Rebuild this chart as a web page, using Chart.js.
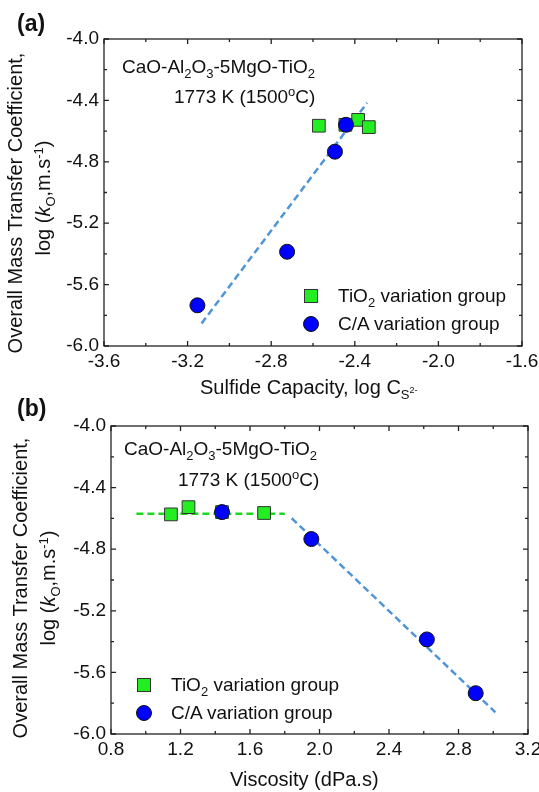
<!DOCTYPE html>
<html>
<head>
<meta charset="utf-8">
<script src="https://cdn.jsdelivr.net/npm/chart.js@4.4.0/dist/chart.umd.min.js"></script>
<style>
  body { margin: 0; background: #fff; }
  #wrap { position: relative; width: 539px; height: 792px; overflow: hidden; background: #fff;
          font-family: "Liberation Sans", Arial, sans-serif; color: #111; }
  canvas { position: absolute; left: 0; }
  .t { position: absolute; white-space: nowrap; font-size: 19px; line-height: 19px; }
  .ttl { font-size: 20px; line-height: 20px; }
  .sub { font-size: 13px; position: relative; top: 5px; }
  .sup { font-size: 13px; position: relative; top: -7px; }
  .tiny { font-size: 9px; position: relative; top: -6px; }
  .rot { transform: translate(-50%, -50%) rotate(-90deg); }
  .lab { font-weight: bold; font-size: 23px; line-height: 23px; }
  .sq { position: absolute; width: 12px; height: 12px; background: #22ee22; border: 1px solid #333; }
  .ci { position: absolute; width: 14px; height: 14px; border-radius: 50%; background: #0000ff; border: 1px solid #111; }
</style>
</head>
<body>
<div id="wrap">
  <canvas id="chartA" width="539" height="396" style="top:0"></canvas>
  <canvas id="chartB" width="539" height="396" style="top:396px"></canvas>

  <!-- panel (a) text -->
  <div class="t lab" style="left:17px;top:12px">(a)</div>
  <div class="t" style="left:122px;top:57px">CaO-Al<span class="sub">2</span>O<span class="sub">3</span>-5MgO-TiO<span class="sub">2</span></div>
  <div class="t" style="left:174px;top:87px">1773 K (1500<span class="sup">o</span>C)</div>
  <div class="sq" style="left:304px;top:289px"></div>
  <div class="ci" style="left:303px;top:316px"></div>
  <div class="t" style="left:338px;top:286px">TiO<span class="sub">2</span> variation group</div>
  <div class="t" style="left:338px;top:314px">C/A variation group</div>
  <div class="t ttl" style="left:200px;top:377px">Sulfide Capacity, log C<span class="sub">S<span class="tiny">2-</span></span></div>
  <div class="t ttl rot" style="left:15px;top:203px">Overall Mass Transfer Coefficient,</div>
  <div class="t ttl rot" style="left:44px;top:198px">log (<i>k</i><span class="sub">O</span>,m.s<span class="sup">-1</span>)</div>

  <!-- panel (b) text -->
  <div class="t lab" style="left:17px;top:397px">(b)</div>
  <div class="t" style="left:124px;top:439px">CaO-Al<span class="sub">2</span>O<span class="sub">3</span>-5MgO-TiO<span class="sub">2</span></div>
  <div class="t" style="left:178px;top:470px">1773 K (1500<span class="sup">o</span>C)</div>
  <div class="sq" style="left:137px;top:678px"></div>
  <div class="ci" style="left:136px;top:705px"></div>
  <div class="t" style="left:171px;top:675px">TiO<span class="sub">2</span> variation group</div>
  <div class="t" style="left:171px;top:703px">C/A variation group</div>
  <div class="t ttl" style="left:230px;top:769px">Viscosity (dPa.s)</div>
  <div class="t ttl rot" style="left:20px;top:588px">Overall Mass Transfer Coefficient,</div>
  <div class="t ttl rot" style="left:49px;top:588px">log (<i>k</i><span class="sub">O</span>,m.s<span class="sup">-1</span>)</div>
</div>

<script>
// ── data ─────────────────────────────────────────────────────────
// log kO for the TiO2 group (last point is the base slag, also in C/A group)
const tio2LogK = [-4.565, -4.527, -4.574, -4.559];
const tio2LogCs = [-2.572, -2.384, -2.333, -2.445];
const tio2Visc = [1.681, 1.246, 1.145, 1.439];

const caLogK = [-5.735, -5.386, -4.734, -4.559];
const caLogCs = [-3.153, -2.724, -2.495, -2.442];
const caVisc = [2.899, 2.618, 1.953, 1.439];

// dashed trend lines
const fitCsX = [-3.133, -2.341];
const fitCsY = [-5.853, -4.415];
const flatViscX = [0.946, 1.800];
const flatViscY = [-4.569, -4.569];
const slopeViscX = [1.840, 3.012];
const slopeViscY = [-4.599, -5.859];

// axis ranges
const csRange = [-3.6, -1.6];
const viscRange = [0.8, 3.2];
const logKRange = [-6.0, -4.0];

const pts = (xs, ys) => xs.map((x, i) => ({ x, y: ys[i] }));
const FONT = '"Liberation Sans", Arial, sans-serif';

// frame + inward major/minor ticks on all four sides
const frameTicks = {
    id: 'frameTicks',
    afterDraw(chart) {
        const { ctx, chartArea: a, scales: { x, y } } = chart;
        ctx.save();
        ctx.strokeStyle = '#222';
        ctx.lineWidth = 1.3;
        ctx.strokeRect(a.left, a.top, a.right - a.left, a.bottom - a.top);
        ctx.beginPath();
        for (let i = 0; x.min + i * 0.2 <= x.max + 1e-9; i++) {
            const px = x.getPixelForValue(x.min + i * 0.2);
            const len = i % 2 ? 3 : 5;
            ctx.moveTo(px, a.bottom); ctx.lineTo(px, a.bottom - len);
            ctx.moveTo(px, a.top); ctx.lineTo(px, a.top + len);
        }
        for (let i = 0; y.min + i * 0.2 <= y.max + 1e-9; i++) {
            const py = y.getPixelForValue(y.min + i * 0.2);
            const len = i % 2 ? 3 : 5;
            ctx.moveTo(a.left, py); ctx.lineTo(a.left + len, py);
            ctx.moveTo(a.right, py); ctx.lineTo(a.right - len, py);
        }
        ctx.stroke();
        ctx.restore();
    }
};

function makeChart(id, xs, cfg) {
    const lineSets = cfg.lines.map(l => ({
        type: 'line',
        data: pts(l.x, l.y),
        borderColor: l.color,
        borderWidth: 2.5,
        borderDash: [7, 4],
        pointRadius: 0,
        showLine: true,
        fill: false,
    }));
    return new Chart(document.getElementById(id), {
        type: 'scatter',
        data: {
            datasets: [
                {   // C/A variation group
                    data: pts(cfg.caX, caLogK),
                    pointStyle: 'circle', pointRadius: 7.5,
                    backgroundColor: '#0000ff', borderColor: '#111', borderWidth: 1,
                },
                {   // TiO2 variation group
                    data: pts(cfg.tiX, tio2LogK),
                    pointStyle: 'rect', pointRadius: 9,
                    backgroundColor: '#22ee22', borderColor: '#333', borderWidth: 1,
                },
                ...lineSets
            ]
        },
        options: {
            responsive: false, animation: false,
            layout: { padding: cfg.padding },
            plugins: { legend: { display: false }, tooltip: { enabled: false } },
            scales: {
                x: {
                    type: 'linear', min: xs[0], max: xs[1],
                    grid: { display: false, drawTicks: false }, border: { display: false },
                    ticks: {
                        stepSize: 0.4, padding: 4, color: '#111', maxRotation: 0,
                        font: { family: FONT, size: 19 },
                        callback: v => v.toFixed(1)
                    },
                    afterFit: s => { s.height = cfg.xHeight; s.paddingLeft = 0; s.paddingRight = 0; }
                },
                y: {
                    type: 'linear', min: logKRange[0], max: logKRange[1],
                    grid: { display: false, drawTicks: false }, border: { display: false },
                    ticks: {
                        stepSize: 0.4, padding: 5, color: '#111',
                        font: { family: FONT, size: 19 },
                        callback: v => v.toFixed(1)
                    },
                    afterFit: s => { s.width = cfg.yWidth; s.paddingTop = 0; s.paddingBottom = 0; }
                }
            }
        },
        plugins: [frameTicks]
    });
}

// ── (a) vs sulfide capacity ──────────────────────────────────
makeChart('chartA', csRange, {
    caX: caLogCs, tiX: tio2LogCs,
    lines: [{ x: fitCsX, y: fitCsY, color: '#4f95d8' }],
    padding: { top: 39, right: 17, left: 0, bottom: 0 },
    yWidth: 104, xHeight: 50
});

// ── (b) vs viscosity ─────────────────────────────────────────
makeChart('chartB', viscRange, {
    caX: caVisc, tiX: tio2Visc,
    lines: [
        { x: flatViscX, y: flatViscY, color: '#1ed81e' },
        { x: slopeViscX, y: slopeViscY, color: '#4f95d8' }
    ],
    padding: { top: 30, right: 11, left: 0, bottom: 0 },
    yWidth: 111, xHeight: 58
});
</script>
</body>
</html>
